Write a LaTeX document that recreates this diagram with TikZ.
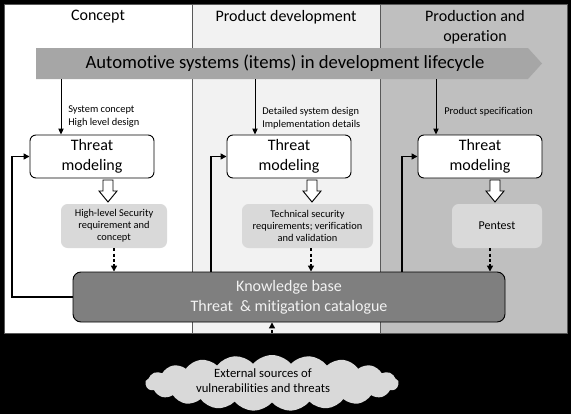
\documentclass[tikz,border=0pt]{standalone}
\usepackage{fontspec}
\setmainfont{Carlito}[Ligatures={NoCommon}]
\usetikzlibrary{arrows.meta,shapes.symbols,calc}
\definecolor{pantwo}{HTML}{F2F2F2}
\definecolor{panthree}{HTML}{BFBFBF}
\definecolor{lifegray}{HTML}{A6A6A6}
\definecolor{boxgray}{HTML}{D9D9D9}
\definecolor{kbgray}{HTML}{7F7F7F}
\definecolor{kbtext}{HTML}{F2F2F2}
\begin{document}
\begin{tikzpicture}[x=0.75pt,y=-0.75pt,
  panel/.style={draw=black!65,line width=0.6pt},
  title/.style={font=\fontsize{12}{15}\selectfont,align=center,inner sep=0pt},
  tmbox/.style={draw=black,fill=white,line width=0.7pt,rounded corners=4.5pt,
    minimum width=93pt,minimum height=32.25pt,align=center,inner sep=0pt,
    font=\fontsize{12}{15}\selectfont},
  reqbox/.style={fill=boxgray,rounded corners=5pt,minimum height=33pt,
    align=center,inner sep=0pt,font=\fontsize{7.8}{9}\selectfont},
  lbl/.style={anchor=west,align=left,inner sep=0pt,font=\fontsize{7.8}{9.75}\selectfont},
  kbbox/.style={draw=black,fill=kbgray,line width=0.7pt,rounded corners=6pt,
    minimum width=324pt,minimum height=37.5pt,align=center,inner sep=0pt,
    text=kbtext,font=\fontsize{12}{15}\selectfont},
  thinarrow/.style={draw=black,line width=0.7pt,-{Triangle[length=4.5pt,width=4pt]}},
  fbarrow/.style={draw=black,line width=1.1pt,-{Triangle[length=4.5pt,width=4.5pt]}},
  dasharrow/.style={draw=black,line width=1pt,dash pattern=on 2.4pt off 1.6pt,
    -{Triangle[length=4.5pt,width=4.5pt]}},
  hollowarr/.style={draw=black,fill=white,line width=0.7pt,line join=miter}
]
\useasboundingbox (0,0) rectangle (571,414);
\fill[black] (0,0) rectangle (571,414);
% panels
\path[panel,fill=white] (4,4) rectangle (192,333);
\path[panel,fill=pantwo] (192,4) rectangle (380,333);
\path[panel,fill=panthree] (380,4) rectangle (567,333);
% titles
\node[title] (t1) at (98,17) {Concept};
\node[title] (t2) at (286,17) {Product development};
\node[title] (t3) at (475,27) {Production and\\operation};
% lifecycle arrow
\fill[lifegray] (36,48) -- (528,48) -- (542,63.5) -- (528,79) -- (36,79) -- cycle;
\node[font=\fontsize{14}{16}\selectfont,inner sep=0pt] (life) at (285,63.5)
  {Automotive systems (items) in development lifecycle};
% threat modeling boxes
\node[tmbox] (tm1) at (92,156.5) {Threat\\modeling};
\node[tmbox] (tm2) at (289,156.5) {Threat\\modeling};
\node[tmbox] (tm3) at (480,156.5) {Threat\\modeling};
% arrows from lifecycle
\coordinate (s1) at (61,79);
\coordinate (s2) at (255,79);
\coordinate (s3) at (436,79);
\draw[thinarrow] (s1) -- (s1 |- tm1.north);
\draw[thinarrow] (s2) -- (s2 |- tm2.north);
\draw[thinarrow] (s3) -- (s3 |- tm3.north);
\node[lbl] (l1) at (68,116.5) {System concept\\High level design};
\node[lbl] (l2) at (262,118.5) {Detailed system design\\Implementation details};
\node[lbl] (l3) at (444,112) {Product specification};
% requirement boxes
\node[reqbox,minimum width=79.5pt] (r1) at (114,226) {High-level Security\\requirement and\\concept};
\node[reqbox,minimum width=98.25pt] (r2) at (307.5,226) {Technical security\\requirements; verification\\and validation};
\node[reqbox,minimum width=67.5pt,font=\fontsize{9}{11}\selectfont] (r3) at (497,226) {Pentest};
% hollow arrows
\foreach \x in {108,312,495}{
  \draw[hollowarr] (\x-5,180) -- (\x+5,180) -- (\x+5,191) -- (\x+9,191) -- (\x,202)
    -- (\x-9,191) -- (\x-5,191) -- cycle;
}
% knowledge base
\node[kbbox] (kb) at (289,297) {Knowledge base\\Threat\ \ \& mitigation catalogue};
% dashed arrows to kb
\coordinate (d1) at (114,0);
\coordinate (d2) at (311,0);
\coordinate (d3) at (490,0);
\draw[dasharrow] (r1.south -| d1) -- (kb.north -| d1);
\draw[dasharrow] (r2.south -| d2) -- (kb.north -| d2);
\draw[dasharrow] (r3.south -| d3) -- (kb.north -| d3);
% feedback loops
\coordinate (f1) at (12,0);
\coordinate (f2) at (211,0);
\coordinate (f3) at (402,0);
\draw[fbarrow] (kb.west) -| (f1 |- tm1.west) -- (tm1.west);
\draw[fbarrow] (kb.north -| f2) |- (tm2.west);
\draw[fbarrow] (kb.north -| f3) |- (tm3.west);
% external sources cloud
\node[cloud,cloud puffs=21,cloud puff arc=100,cloud ignores aspect,fill=boxgray,
  minimum width=190pt,minimum height=42pt,inner sep=0pt] (src) at (272,383) {};
\node[align=center,inner sep=0pt,font=\fontsize{9.5}{11.4}\selectfont] (srct) at (263,381)
  {External sources of\\vulnerabilities and threats};
\draw[dasharrow] (src.north) -- (src.north |- kb.south);
\end{tikzpicture}
\end{document}
